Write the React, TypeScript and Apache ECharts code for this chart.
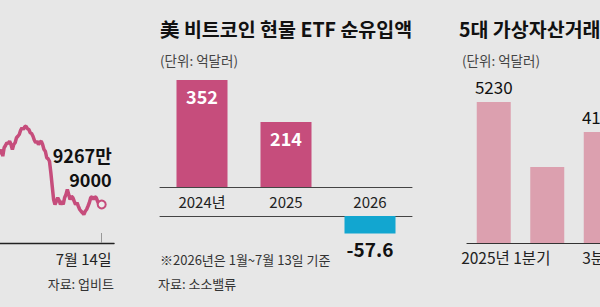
import React, { useEffect, useRef } from "react";
import * as echarts from "echarts";

// Left panel: Bitcoin price (unit: 만원), last point = 7월 14일
const prices = [
  9668, 9708, 9654, 9722, 9740, 9762, 9756, 9774, 9748, 9708,
  9748, 9762, 9802, 9814, 9828, 9862, 9882, 9868, 9890, 9894,
  9874, 9868, 9842, 9836, 9814, 9782, 9762, 9774, 9748, 9766,
  9774, 9748, 9708, 9694, 9642, 9634, 9614, 9522, 9414, 9308,
  9268, 9294, 9322, 9302, 9268, 9294, 9268, 9322, 9348, 9388,
  9348, 9308, 9334, 9322, 9294, 9268, 9282, 9254, 9228, 9214,
  9202, 9188, 9214, 9228, 9254, 9282, 9322, 9330, 9308, 9330,
  9322, 9294, 9268, 9274, 9267.9,
];
const lastDateLabel = "7월 14일";
const axisSlots = 84;

// Middle panel: 美 비트코인 현물 ETF 순유입액 (억달러)
const etfYears = ["2024년", "2025", "2026"];
const etfFlows = [352, 214, -57.6];

// Right panel: 5대 가상자산거래소 (억달러)
const quarters = ["2025년 1분기", "2분기", "3분기"];
const volumes = [5230, 2820, 4120];

const KR = "'Noto Sans CJK KR', 'Noto Sans', sans-serif";

export default function App() {
  const ref = useRef<HTMLDivElement>(null);

  useEffect(() => {
    document.body.style.margin = "0";
    const chart = echarts.init(ref.current!, null, { renderer: "svg" });
    const last = prices.length - 1;
    const priceAxis = Array.from({ length: axisSlots }, (_, i) =>
      i === last ? lastDateLabel : String(i)
    );
    const lineData = prices.map((v, i) =>
      i === last
        ? {
            value: v,
            symbol: "circle",
            symbolSize: 8,
            itemStyle: { color: "#ececec", borderColor: "#c64d7c", borderWidth: 2 },
            label: {
              show: true,
              position: [15, -9],
              align: "right",
              verticalAlign: "bottom",
              fontFamily: KR,
              fontSize: 18,
              fontWeight: "bold",
              lineHeight: 24,
              color: "#111",
              formatter: (p: any) => {
                const won = Math.round(p.value * 10000);
                return `${Math.floor(won / 10000)}만\n${String(won % 10000).padStart(4, "0")}`;
              },
            },
          }
        : v
    );

    const pxPerEtf = 107 / Math.max(...etfFlows);
    const negHeight = -Math.min(...etfFlows) * pxPerEtf;

    chart.setOption({
      animation: false,
      backgroundColor: "#e7e7e7",
      textStyle: { fontFamily: KR },
      grid: [
        { left: 0, top: 118, width: (axisSlots - 1) * (101.7 / last), height: 125, outerBoundsMode: "none" },
        { left: 160, top: 80, width: 252, height: 107, outerBoundsMode: "none" },
        { left: 160, top: 216, width: 252, height: negHeight, outerBoundsMode: "none" },
        { left: 467, top: 102, width: 160.5, height: 141, outerBoundsMode: "none" },
      ],
      xAxis: [
        {
          type: "category",
          gridIndex: 0,
          data: priceAxis,
          boundaryGap: false,
          axisLine: { lineStyle: { color: "#222", width: 1.3 } },
          axisTick: {
            show: true,
            interval: (i: number) => i === last,
            inside: true,
            length: 10,
            lineStyle: { color: "#999" },
          },
          axisLabel: {
            interval: (i: number) => i === last,
            fontSize: 15,
            color: "#222",
            margin: 8,
            padding: [0, 36, 0, 0],
            fontFamily: KR,
          },
        },
        {
          type: "category",
          gridIndex: 1,
          data: etfYears,
          axisLine: { lineStyle: { color: "#444", width: 1 } },
          axisTick: { show: false },
          axisLabel: { fontSize: 15, color: "#222", margin: 7, fontFamily: KR },
        },
        {
          type: "category",
          gridIndex: 2,
          data: etfYears,
          axisLine: { lineStyle: { color: "#444", width: 1 } },
          axisTick: { show: false },
          axisLabel: { show: false },
        },
        {
          type: "category",
          gridIndex: 3,
          data: quarters.map((q, i) =>
            i === 0 ? { value: q, textStyle: { padding: [0, 0, 0, 24] } } : q
          ),
          axisLine: { lineStyle: { color: "#333", width: 1.2 } },
          axisTick: { show: false },
          axisLabel: {
            interval: (i: number) => i !== 1,
            fontSize: 15.5,
            color: "#222",
            margin: 6,
            fontFamily: KR,
          },
        },
      ],
      yAxis: [
        { type: "value", gridIndex: 0, min: 8960, max: 9960, show: false },
        { type: "value", gridIndex: 1, min: 0, max: Math.max(...etfFlows), show: false },
        { type: "value", gridIndex: 2, min: Math.min(...etfFlows), max: 0, show: false },
        { type: "value", gridIndex: 3, min: 0, max: Math.max(...volumes), show: false },
      ],
      series: [
        {
          type: "line",
          xAxisIndex: 0,
          yAxisIndex: 0,
          data: lineData,
          symbol: "none",
          showSymbol: true,
          showAllSymbol: true,
          lineStyle: { color: "#c64d7c", width: 3.5 },
          itemStyle: { color: "#c64d7c" },
        },
        {
          type: "bar",
          xAxisIndex: 1,
          yAxisIndex: 1,
          data: etfFlows.map((v) => (v >= 0 ? v : "-")),
          barWidth: 51,
          itemStyle: { color: "#c64d7c" },
          label: {
            show: true,
            position: "insideTop",
            distance: 7,
            color: "#fff",
            fontSize: 18,
            fontWeight: "bold",
            fontFamily: KR,
          },
        },
        {
          type: "bar",
          xAxisIndex: 2,
          yAxisIndex: 2,
          data: etfFlows.map((v) => (v < 0 ? v : "-")),
          barWidth: 51,
          itemStyle: { color: "#12a6d0" },
          label: {
            show: true,
            position: "bottom",
            distance: 5,
            color: "#111",
            fontSize: 19,
            fontWeight: "bold",
            fontFamily: KR,
          },
        },
        {
          type: "bar",
          xAxisIndex: 3,
          yAxisIndex: 3,
          data: volumes.map((v, i) =>
            i === 1 ? { value: v, label: { show: false } } : v
          ),
          barWidth: 34,
          itemStyle: { color: "#dca0af" },
          label: {
            show: true,
            position: "top",
            distance: 7,
            color: "#111",
            fontSize: 17,
            fontFamily: KR,
          },
        },
      ],
      graphic: [
        {
          type: "text",
          x: 160,
          y: 28,
          style: {
            text: "美 비트코인 현물 ETF 순유입액",
            fill: "#111",
            fontSize: 19.5,
            fontWeight: "bold",
            fontFamily: KR,
            textAlign: "left",
            textVerticalAlign: "middle",
          },
        },
        {
          type: "text",
          x: 160,
          y: 60,
          style: {
            text: "(단위: 억달러)",
            fill: "#444",
            fontSize: 13.5,
            fontFamily: KR,
            textAlign: "left",
            textVerticalAlign: "middle",
          },
        },
        {
          type: "text",
          x: 459,
          y: 28,
          style: {
            text: "5대 가상자산거래소 거래대금",
            fill: "#111",
            fontSize: 19.5,
            fontWeight: "bold",
            fontFamily: KR,
            textAlign: "left",
            textVerticalAlign: "middle",
          },
        },
        {
          type: "text",
          x: 462,
          y: 60,
          style: {
            text: "(단위: 억달러)",
            fill: "#444",
            fontSize: 13.5,
            fontFamily: KR,
            textAlign: "left",
            textVerticalAlign: "middle",
          },
        },
        {
          type: "text",
          x: 160,
          y: 259,
          style: {
            text: "※2026년은 1월~7월 13일 기준",
            fill: "#333",
            fontSize: 13,
            fontFamily: KR,
            textAlign: "left",
            textVerticalAlign: "middle",
          },
        },
        {
          type: "text",
          x: 158,
          y: 283,
          style: {
            text: "자료: 소소밸류",
            fill: "#333",
            fontSize: 13,
            fontFamily: KR,
            textAlign: "left",
            textVerticalAlign: "middle",
          },
        },
        {
          type: "text",
          x: 114,
          y: 283,
          style: {
            text: "자료: 업비트",
            fill: "#333",
            fontSize: 13,
            fontFamily: KR,
            textAlign: "right",
            textVerticalAlign: "middle",
          },
        },
      ],
    });
    return () => chart.dispose();
  }, []);

  return (
    <div
      ref={ref}
      style={{ position: "fixed", left: 0, top: 0, width: 600, height: 307 }}
    />
  );
}
